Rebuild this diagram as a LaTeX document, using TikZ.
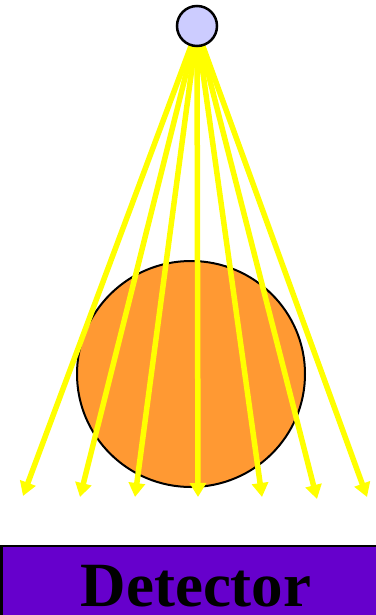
\documentclass[tikz,border=0pt]{standalone}
\usepackage{fontspec}
\setmainfont{Liberation Serif}
\usetikzlibrary{arrows.meta,shapes.geometric}
\definecolor{srcfill}{HTML}{CCCCFF}
\definecolor{objfill}{HTML}{FF9933}
\definecolor{detfill}{HTML}{6600CC}
\definecolor{ray}{HTML}{FFFF00}
\tikzset{
  raystyle/.style={draw=ray, line width=5.5pt, -{Triangle[length=14pt,width=16pt]}},
}
\begin{document}
\begin{tikzpicture}[x=1pt,y=-1pt]
\useasboundingbox (0,0) rectangle (375,615);
\fill[white] (0,0) rectangle (375,615);
% object
\node[ellipse, draw=black, line width=2pt, fill=objfill, minimum width=228pt, minimum height=226pt, inner sep=0pt] (obj) at (191,374) {};
% detector
\draw[fill=detfill, draw=black, line width=2.5pt] (1.5,546) rectangle (380,620);
\node[font=\bfseries\fontsize{63}{63}\selectfont, text=black, anchor=base, inner sep=0pt] (det) at (196,606) {Detector};
% rays
\coordinate (src0) at (197,30);
\coordinate (t1) at (23,496);
\coordinate (t2) at (80,497);
\coordinate (t3) at (135,497);
\coordinate (t4) at (198,497);
\coordinate (t5) at (262,497);
\coordinate (t6) at (317,499);
\coordinate (t7) at (367,497);
\foreach \t in {t1,t2,t3,t4,t5,t6,t7} {
  \draw[raystyle] (src0) -- (\t);
}
% source
\node[circle, draw=black, line width=2.5pt, fill=srcfill, minimum size=40pt, inner sep=0pt] (src) at (197,26) {};
\end{tikzpicture}
\end{document}
